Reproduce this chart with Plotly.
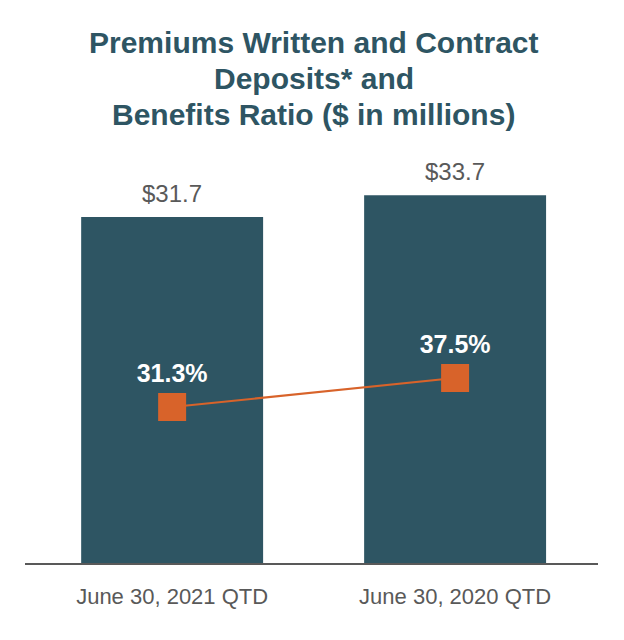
import plotly.graph_objects as go

categories = ["June 30, 2021 QTD", "June 30, 2020 QTD"]
premiums = [31.7, 33.7]
benefits_ratio = [31.3, 37.5]
premium_labels = ["$31.7", "$33.7"]
ratio_labels = ["31.3%", "37.5%"]
title_lines = ["Premiums Written and Contract", "Deposits* and", "Benefits Ratio ($ in millions)"]

BAR = "#2e5563"
ORANGE = "#d8632a"
GRAY = "#595959"
FONT = "Liberation Sans, Arial, sans-serif"

xpos = list(range(len(categories)))

# plot area in page pixels (page has an 8px body margin)
PLOT_TOP, PLOT_BOTTOM = 150, 563

fig = go.Figure()
fig.add_trace(go.Bar(
    x=xpos, y=premiums, width=0.643, marker=dict(color=BAR, line=dict(width=0)),
    showlegend=False, hoverinfo="skip",
))
for xv, yv, lab in zip(xpos, premiums, premium_labels):
    fig.add_annotation(
        x=xv, y=yv, xref="x", yref="y", text=lab, showarrow=False,
        xanchor="center", yanchor="bottom", yshift=8,
        font=dict(size=24, color=GRAY, family=FONT),
    )

fig.add_trace(go.Scatter(
    x=xpos, y=benefits_ratio, yaxis="y2", mode="lines+markers+text",
    line=dict(color=ORANGE, width=2),
    marker=dict(symbol="square", size=28, color=ORANGE),
    text=["<b>%s</b>" % t for t in ratio_labels], textposition="top center",
    textfont=dict(size=25, color="white", family=FONT), showlegend=False,
    cliponaxis=False,
))

title_y = [43, 79, 114]
for line, py in zip(title_lines, title_y):
    fig.add_annotation(
        text="<b>%s</b>" % line, xref="paper", yref="paper",
        x=0.504, y=(PLOT_BOTTOM - py) / (PLOT_BOTTOM - PLOT_TOP),
        xanchor="center", yanchor="middle", showarrow=False,
        font=dict(size=30, color="#2e5563", family=FONT),
    )

fig.update_layout(
    width=616, height=632,
    margin=dict(l=17, r=26, t=142, b=77),
    paper_bgcolor="white", plot_bgcolor="white",
    xaxis=dict(
        tickmode="array", tickvals=xpos, ticktext=categories,
        range=[-0.52, 1.505], showgrid=False, zeroline=False,
        showline=True, linecolor=GRAY, linewidth=2,
        tickfont=dict(size=22, color=GRAY, family=FONT), ticks="", ticklen=0,
        ticklabelstandoff=13,
    ),
    yaxis=dict(range=[0, 37.85], visible=False, showgrid=False, zeroline=False),
    yaxis2=dict(range=[-2.05, 86.25], overlaying="y", side="right", visible=False,
                showgrid=False, zeroline=False),
)

fig.write_html("out.html")
